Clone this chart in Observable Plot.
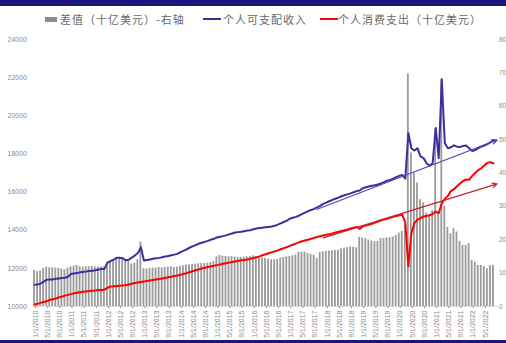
<!DOCTYPE html>
<html>
<head>
<meta charset="utf-8">
<script src="https://cdn.jsdelivr.net/npm/d3@7"></script>
<script src="https://cdn.jsdelivr.net/npm/@observablehq/plot@0.6"></script>
<style>
  body { margin: 0; background: #fff; }
  #wrap { position: relative; width: 506px; height: 343px; overflow: hidden; background: #fff; }
  .topbar { height: 6px; background: #1b1580; }
  .bottombar { height: 3px; background: #1b1580; }
  .legend { position: relative; height: 26px; font-family: "Noto Sans CJK SC", sans-serif; font-size: 11px; color: #6a6a6a; letter-spacing: 1px; }
  .legend span.t { position: absolute; top: 0; line-height: 26px; white-space: nowrap; }
  .legend span.s { position: absolute; }
  #chart svg { display: block; }
</style>
</head>
<body>
<div id="wrap">
  <div class="topbar"></div>
  <div class="legend" id="legend"></div>
  <div id="chart"></div>
  <div class="bottombar"></div>
</div>
<script>
// ---- Data (monthly, Jan 2010 – Aug 2022) ----
const startYear = 2010;
// 个人可支配收入 (billions USD, left axis)
const disposableIncome = [
  11140, 11150, 11200, 11300, 11400, 11420, 11420, 11450, 11470, 11490, 11510, 11560,
  11700, 11730, 11760, 11790, 11810, 11830, 11860, 11880, 11900, 11940, 11960, 11970,
  12300, 12380, 12450, 12550, 12560, 12530, 12420, 12450, 12560, 12670, 12800, 13110,
  12410, 12440, 12470, 12500, 12530, 12550, 12580, 12620, 12650, 12690, 12720, 12760,
  12850, 12920, 13000, 13080, 13150, 13220, 13290, 13340, 13390, 13440, 13500, 13550,
  13620, 13660, 13690, 13730, 13780, 13830, 13880, 13900, 13920, 13950, 13980, 14000,
  14050, 14090, 14110, 14130, 14150, 14170, 14190, 14230, 14290, 14360, 14430, 14500,
  14600, 14650, 14700, 14760, 14840, 14920, 15000, 15060, 15120, 15200, 15280, 15380,
  15450, 15520, 15590, 15650, 15710, 15780, 15830, 15880, 15930, 15990, 16050, 16080,
  16200, 16250, 16290, 16330, 16360, 16400, 16450, 16520, 16600, 16630, 16700, 16780,
  16850, 16900, 16700, 19100, 18300, 18180, 18300, 17870, 17780, 17510, 17380, 17510,
  19360, 17780, 21910, 18560, 18300, 18350, 18450, 18380, 18360, 18420, 18440, 18300,
  18150, 18200, 18300, 18380, 18440, 18520, 18610, 18720
];
// 个人消费支出 (billions USD, left axis)
const consumption = [
  10100, 10140, 10190, 10240, 10280, 10340, 10380, 10420, 10470, 10520, 10570, 10610,
  10650, 10690, 10720, 10750, 10770, 10790, 10810, 10830, 10840, 10860, 10870, 10880,
  10980, 11050, 11060, 11080, 11090, 11100, 11110, 11150, 11190, 11230, 11260, 11290,
  11310, 11340, 11360, 11390, 11420, 11440, 11470, 11500, 11530, 11560, 11600, 11630,
  11660, 11700, 11750, 11800, 11850, 11900, 11940, 11990, 12030, 12070, 12100, 12140,
  12170, 12200, 12240, 12270, 12300, 12330, 12360, 12390, 12420, 12440, 12470, 12500,
  12540, 12580, 12630, 12690, 12740, 12790, 12840, 12890, 12940, 13000, 13060, 13110,
  13180, 13240, 13300, 13360, 13420, 13460, 13500, 13550, 13600, 13640, 13680, 13720,
  13760, 13790, 13830, 13880, 13920, 13960, 14000, 14040, 14090, 14130, 14170, 14070,
  14200, 14240, 14290, 14340, 14400, 14460, 14520, 14560, 14600, 14650, 14700, 14740,
  14780, 14820, 14400, 12100, 13840, 14370, 14550, 14640, 14720, 14740, 14780, 14850,
  14980, 14900, 15400, 15650, 15800, 16050, 16150, 16300, 16450, 16580, 16660, 16640,
  16850, 17000, 17150, 17250, 17400, 17530, 17570, 17500
];
// 差值 (right axis)
const gap = [
  10.8, 10.5, 10.6, 11.4, 11.8, 11.6, 11.6, 11.5, 11.4, 11.2, 11.0, 11.5,
  11.9, 12.1, 12.3, 11.9, 11.8, 11.9, 11.9, 12.0, 11.9, 11.8, 11.9, 11.8,
  13.2, 13.6, 13.8, 14.3, 14.5, 14.5, 14.1, 13.5, 12.7, 13.0, 14.0, 19.3,
  11.3, 11.2, 11.4, 11.5, 11.5, 11.7, 11.6, 11.7, 11.8, 11.9, 11.7, 11.8,
  12.0, 12.2, 12.4, 12.5, 12.6, 12.7, 12.8, 12.9, 12.9, 13.0, 13.2, 13.5,
  14.9, 15.3, 15.1, 15.0, 14.9, 14.9, 14.8, 14.7, 14.7, 14.8, 14.9, 15.0,
  15.2, 15.0, 14.7, 14.6, 14.4, 14.2, 14.0, 14.0, 14.1, 14.5, 14.7, 14.9,
  15.0, 15.2, 15.4, 16.2, 16.3, 16.3, 15.9, 15.6, 15.4, 14.4, 16.2, 16.4,
  16.5, 16.6, 16.7, 16.8, 16.9, 17.3, 17.5, 17.6, 17.8, 17.8, 17.6, 20.7,
  20.5, 20.3, 19.9, 19.6, 19.4, 19.5, 20.3, 20.4, 20.5, 20.6, 20.8, 21.3,
  22.0, 22.5, 24.5, 69.7, 46.0, 40.0, 37.0, 32.0, 31.0, 28.0, 27.5, 28.7,
  53.3, 28.2, 68.0, 30.0, 23.7, 21.8, 23.3, 22.3, 19.5, 18.3, 18.3, 18.8,
  13.8, 13.3, 12.3, 12.3, 12.0, 11.3, 12.3, 12.3
];
// trend arrows (month index, value on left axis)
const trendArrows = [
  { name: "income", x1: 93, y1: 15100, x2: 152.2, y2: 18730 },
  { name: "consumption", x1: 95, y1: 13600, x2: 152.2, y2: 16430 }
];
const tickLabels = [
  "1/1/2010","5/1/2010","9/1/2010","1/1/2011","5/1/2011","9/1/2011",
  "1/1/2012","5/1/2012","9/1/2012","1/1/2013","5/1/2013","9/1/2013",
  "1/1/2014","5/1/2014","9/1/2014","1/1/2015","5/1/2015","9/1/2015",
  "1/1/2016","5/1/2016","9/1/2016","1/1/2017","5/1/2017","9/1/2017",
  "1/1/2018","5/1/2018","9/1/2018","1/1/2019","5/1/2019","9/1/2019",
  "1/1/2020","5/1/2020","9/1/2020","1/1/2021","5/1/2021","9/1/2021",
  "1/1/2022","5/1/2022"
];
const leftTicks = [10000, 12000, 14000, 16000, 18000, 20000, 22000, 24000];
const rightTicks = [0, 10, 20, 30, 40, 50, 60, 70, 80];
const legendItems = [
  { label: "差值（十亿美元）-右轴", kind: "bar", color: "#8c8c8c" },
  { label: "个人可支配收入", kind: "line", color: "#3d2f9b" },
  { label: "个人消费支出（十亿美元）", kind: "line", color: "#ff0000" }
];

// ---- Build ----
const leftMin = 10000, leftMax = 24000, rightMax = 80;
const r2l = v => leftMin + v * (leftMax - leftMin) / rightMax;
const l2r = v => (v - leftMin) * rightMax / (leftMax - leftMin);

const rows = disposableIncome.map((v, i) => ({ i, income: v, consumption: consumption[i], gap: gap[i] }));
const tickIdx = tickLabels.map((_, k) => k * 4);

// legend
const leg = document.getElementById("legend");
const legPos = [{ s: 45, t: 60 }, { s: 203, t: 223 }, { s: 320, t: 338 }];
legendItems.forEach((it, k) => {
  const sw = document.createElement("span");
  sw.className = "s";
  sw.style.left = legPos[k].s + "px";
  sw.style.background = it.color;
  if (it.kind === "bar") { sw.style.top = "10.5px"; sw.style.width = "12px"; sw.style.height = "5px"; }
  else { sw.style.top = "12px"; sw.style.width = "18px"; sw.style.height = "2px"; }
  leg.appendChild(sw);
  const t = document.createElement("span");
  t.className = "t";
  t.style.left = legPos[k].t + "px";
  t.textContent = it.label;
  leg.appendChild(t);
});

const chart = Plot.plot({
  width: 506,
  height: 308,
  marginLeft: 32.5,
  marginRight: 8.5,
  marginTop: 7,
  marginBottom: 34,
  style: { fontFamily: "'Liberation Sans', Arial, sans-serif", background: "#fff" },
  x: { type: "linear", domain: [-0.5, 152.5], axis: null },
  y: { domain: [leftMin, leftMax], axis: null },
  marks: [
    Plot.rect(rows, { x1: d => d.i - 0.3, x2: d => d.i + 0.3, y1: leftMin, y2: d => r2l(d.gap), fill: "#9b9b9b" }),
    Plot.ruleY([leftMin], { stroke: "#d9d9d9", strokeWidth: 1 }),
    Plot.lineY(rows, { x: "i", y: "income", stroke: "#3d2f9b", strokeWidth: 2 }),
    Plot.lineY(rows, { x: "i", y: "consumption", stroke: "#ff0000", strokeWidth: 2 }),
    Plot.arrow(trendArrows, {
      x1: "x1", y1: "y1", x2: "x2", y2: "y2",
      stroke: d => d.name === "income" ? "#5348b0" : "#c4262e",
      strokeWidth: 1.3, headLength: 6, headAngle: 50
    }),
    Plot.axisX({
      ticks: tickIdx,
      tickFormat: d => tickLabels[Math.round(d / 4)],
      tickRotate: -90, fontSize: 7, tickSize: 2, tickPadding: 2,
      color: "#8a8a8a", dx: 1
    }),
    Plot.axisY({
      anchor: "left", ticks: leftTicks, tickFormat: d => String(d),
      tickSize: 0, tickPadding: 6, fontSize: 7, color: "#8a8a8a"
    }),
    Plot.axisY({
      anchor: "right", ticks: rightTicks.map(r2l), tickFormat: d => String(Math.round(l2r(d))),
      tickSize: 0, tickPadding: 1, fontSize: 6.5, color: "#8a8a8a"
    })
  ]
});
document.getElementById("chart").appendChild(chart);
</script>
</body>
</html>
